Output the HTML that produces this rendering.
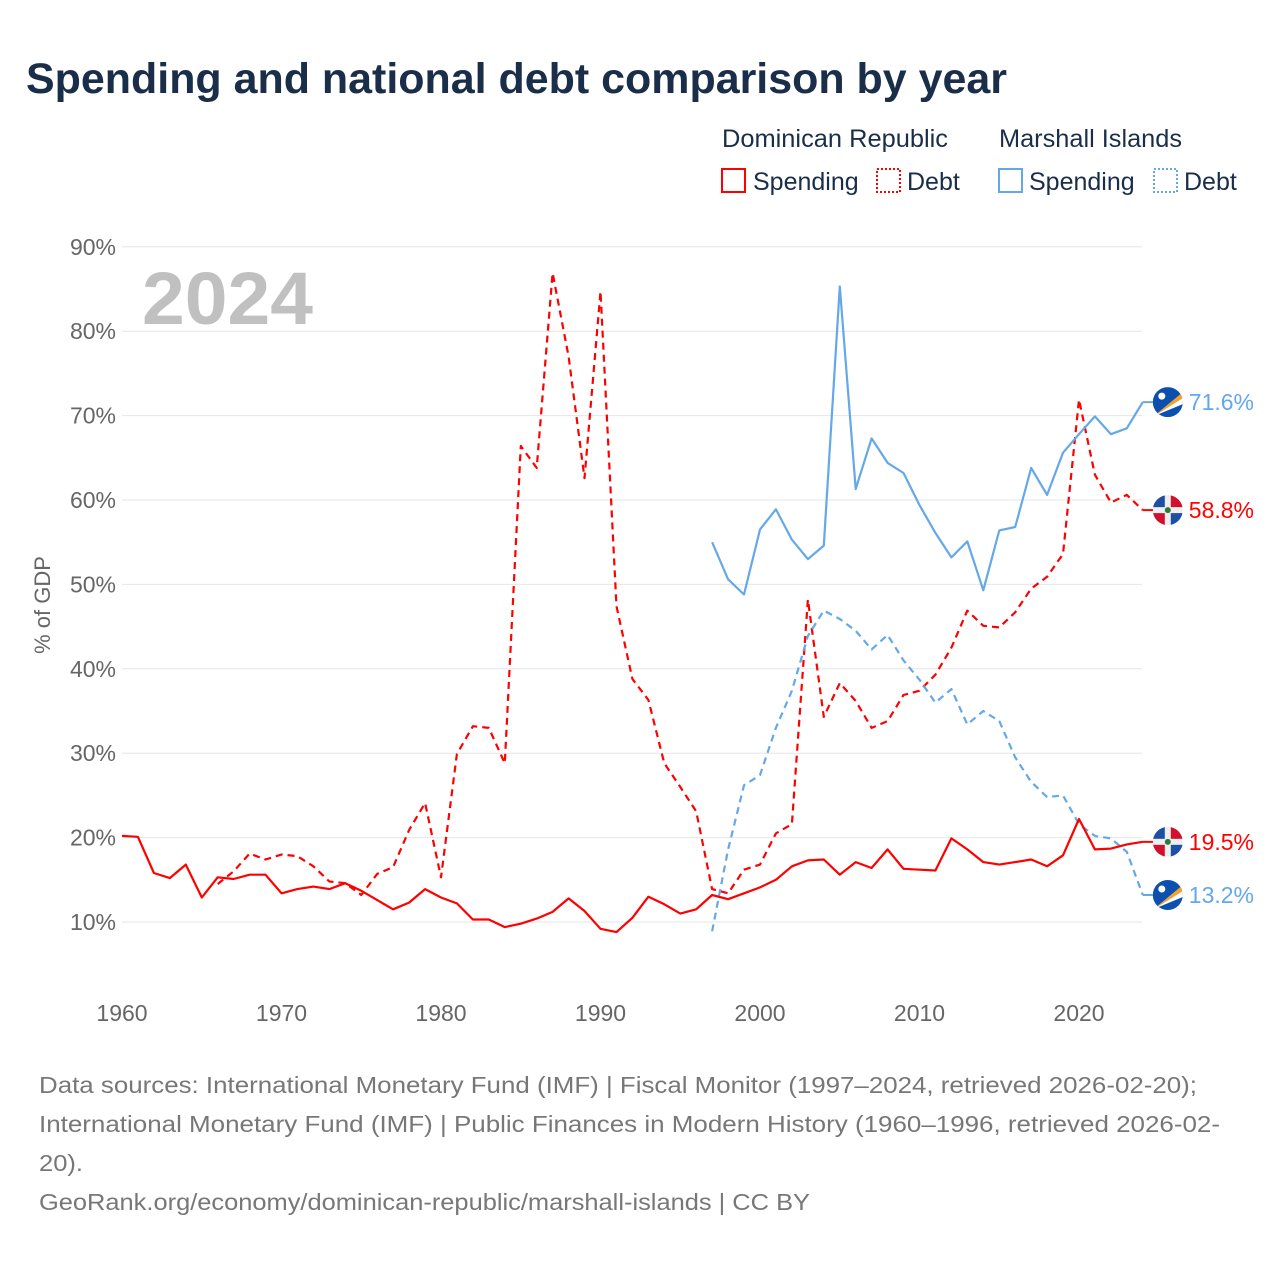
<!DOCTYPE html>
<html><head><meta charset="utf-8"><style>
body{margin:0;background:#fff;}
svg text{font-family:"Liberation Sans",sans-serif;}
</style></head><body>
<svg id="c" width="1280" height="1280" xmlns="http://www.w3.org/2000/svg">
<rect width="1280" height="1280" fill="#fff"/>
<text x="26" y="93" font-size="43" font-weight="bold" fill="#1a2e4a" textLength="981" lengthAdjust="spacingAndGlyphs">Spending and national debt comparison by year</text>
<g font-size="25" fill="#1a2e4a">
<text x="722" y="147" fill="#1a2e4a" textLength="226" lengthAdjust="spacingAndGlyphs">Dominican Republic</text>
<text x="999" y="147" fill="#1a2e4a" textLength="183" lengthAdjust="spacingAndGlyphs">Marshall Islands</text>
<rect x="722" y="169" width="23" height="23" fill="none" stroke="#f00" stroke-width="2"/>
<text x="753" y="190" fill="#1a2e4a">Spending</text>
<rect x="877" y="169" width="23" height="23" fill="none" stroke="#f00" stroke-width="2" stroke-dasharray="2,2"/>
<text x="907" y="190" fill="#1a2e4a">Debt</text>
<rect x="999" y="169" width="23" height="23" fill="none" stroke="#64a8ea" stroke-width="2"/>
<text x="1029" y="190" fill="#1a2e4a">Spending</text>
<rect x="1154" y="169" width="23" height="23" fill="none" stroke="#64a8ea" stroke-width="2" stroke-dasharray="2,2"/>
<text x="1184" y="190" fill="#1a2e4a">Debt</text>
</g>
<g id="grid"></g>
<text x="142" y="324" font-size="74" font-weight="bold" fill="#c0c0c0" textLength="171" lengthAdjust="spacingAndGlyphs">2024</text>
<text transform="translate(50,605) rotate(-90)" text-anchor="middle" font-size="22" fill="#666">% of GDP</text>
<g id="series"></g>
<g font-size="23" fill="#777">
<text x="39" y="1093" textLength="1158" lengthAdjust="spacingAndGlyphs">Data sources: International Monetary Fund (IMF) | Fiscal Monitor (1997–2024, retrieved 2026-02-20);</text>
<text x="39" y="1132" textLength="1181" lengthAdjust="spacingAndGlyphs">International Monetary Fund (IMF) | Public Finances in Modern History (1960–1996, retrieved 2026-02-</text>
<text x="39" y="1171" textLength="44" lengthAdjust="spacingAndGlyphs">20).</text>
<text x="39" y="1210" textLength="771" lengthAdjust="spacingAndGlyphs">GeoRank.org/economy/dominican-republic/marshall-islands | CC BY</text>
</g>
</svg>
<script>
const yTicks=[10,20,30,40,50,60,70,80,90];
const xTicks=[1960,1970,1980,1990,2000,2010,2020];
const drSpendStart=1960;
const drSpending=[20.2,20.1,15.8,15.2,16.8,12.9,15.3,15.1,15.6,15.6,13.4,13.9,14.2,13.9,14.6,13.7,12.6,11.5,12.3,13.9,12.9,12.2,10.3,10.3,9.4,9.8,10.4,11.2,12.8,11.3,9.2,8.8,10.5,13.0,12.1,11.0,11.5,13.2,12.7,13.4,14.1,15.0,16.6,17.3,17.4,15.6,17.1,16.4,18.6,16.3,16.2,16.1,19.9,18.6,17.1,16.8,17.1,17.4,16.6,17.9,22.2,18.6,18.7,19.2,19.5];
const drDebtStart=1966;
const drDebt=[14.5,16.0,18.1,17.4,18.0,17.8,16.6,14.8,14.6,13.2,15.7,16.5,20.9,24.1,15.3,29.9,33.2,33.0,28.8,66.4,63.8,86.9,77.0,62.6,84.7,47.4,38.8,36.3,28.8,26.0,23.1,13.9,13.4,16.2,16.8,20.5,21.6,48.2,34.3,38.3,36.2,33.0,33.8,36.9,37.4,39.3,42.5,46.9,45.1,44.9,46.7,49.5,50.9,53.6,71.9,63.0,59.7,60.6,58.8];
const mhStart=1997;
const mhSpending=[55.0,50.6,48.8,56.5,58.9,55.3,53.0,54.6,85.3,61.3,67.3,64.4,63.2,59.4,56.1,53.2,55.1,49.3,56.4,56.8,63.8,60.6,65.6,67.8,69.9,67.8,68.5,71.6];
const mhDebt=[8.9,18.6,26.2,27.4,33.0,37.4,43.9,46.9,45.9,44.5,42.3,44.0,41.0,38.7,36.0,37.6,33.4,35.0,33.8,29.5,26.6,24.8,25.0,21.6,20.2,19.9,18.3,13.2];

const NS='http://www.w3.org/2000/svg';
const X=y=>122+(y-1960)*15.95;
const Y=v=>922-(v-10)*8.44;
const grid=document.getElementById('grid');
const ser=document.getElementById('series');
function mk(tag,attrs,parent){const e=document.createElementNS(NS,tag);for(const k in attrs)e.setAttribute(k,attrs[k]);parent.appendChild(e);return e;}
yTicks.forEach(v=>{
  const l=mk('line',{x1:122,x2:1142,y1:Y(v),y2:Y(v),stroke:'#e6e6e6','stroke-width':1},grid);
  
  
  const t=mk('text',{x:116,y:Y(v)+8,'text-anchor':'end','font-size':23,fill:'#666'},grid);
  t.textContent=v+'%';
  
  
});
xTicks.forEach(yr=>{
  const t=mk('text',{x:X(yr),y:1021,'text-anchor':'middle','font-size':23,fill:'#666'},grid);
  t.textContent=yr;
  
  
});
function line(arr,start,color,dash,name){
  const d=arr.map((v,i)=>(i?'L':'M')+X(start+i).toFixed(1)+','+Y(v).toFixed(1)).join('');
  const p=mk('path',{d:d,fill:'none',stroke:color,'stroke-width':2.2,'stroke-linejoin':'round'},ser);
  if(dash)p.setAttribute('stroke-dasharray','7,5');
  
  
}
line(drDebt,drDebtStart,'#f00',true,'dr-debt-line');
line(mhDebt,mhStart,'#64a8ea',true,'mh-debt-line');
line(mhSpending,mhStart,'#64a8ea',false,'mh-spending-line');
line(drSpending,drSpendStart,'#f00',false,'dr-spending-line');
function endLabel(arr,start,color,flag,name){
  const v=arr[arr.length-1];const yr=start+arr.length-1;
  const x0=X(yr),y0=Y(v),cx=x0+25;
  mk('line',{x1:x0,x2:cx,y1:y0,y2:y0,stroke:color,'stroke-width':2},ser);
  const g=mk('g',{},ser);
  
  
  const id='cp'+name;
  const cp=mk('clipPath',{id:id},g);mk('circle',{cx:cx,cy:y0,r:15},cp);
  const gg=mk('g',{'clip-path':'url(#'+id+')'},g);
  if(flag==='dr'){
    mk('rect',{x:cx-15,y:y0-15,width:30,height:30,fill:'#eee'},gg);
    mk('rect',{x:cx-15,y:y0-15,width:12,height:12,fill:'#1d4fa3'},gg);
    mk('rect',{x:cx+3,y:y0-15,width:12,height:12,fill:'#d0102c'},gg);
    mk('rect',{x:cx-15,y:y0+3,width:12,height:12,fill:'#d0102c'},gg);
    mk('rect',{x:cx+3,y:y0+3,width:12,height:12,fill:'#1d4fa3'},gg);
    mk('circle',{cx:cx,cy:y0,r:3,fill:'#2a7a3a'},gg);
  }else{
    mk('rect',{x:cx-15,y:y0-15,width:30,height:30,fill:'#0b4fb0'},gg);
    mk('path',{d:`M${cx-14},${y0+14}L${cx+15},${y0-10}L${cx+15},${y0-4}Z`,fill:'#f7a226'},gg);
    mk('path',{d:`M${cx-14},${y0+14}L${cx+15},${y0-4}L${cx+15},${y0+2}Z`,fill:'#fff'},gg);
    mk('circle',{cx:cx-6,cy:y0-6,r:3.5,fill:'#fff'},gg);
  }
  const t=mk('text',{x:cx+21,y:y0+8,'font-size':23,fill:color},ser);
  t.textContent=v.toFixed(1)+'%';
  
  
}
endLabel(mhSpending,mhStart,'#64a8ea','mh','mh-spending');
endLabel(drDebt,drDebtStart,'#f00','dr','dr-debt');
endLabel(drSpending,drSpendStart,'#f00','dr','dr-spending');
endLabel(mhDebt,mhStart,'#64a8ea','mh','mh-debt');
</script>
</body></html>
